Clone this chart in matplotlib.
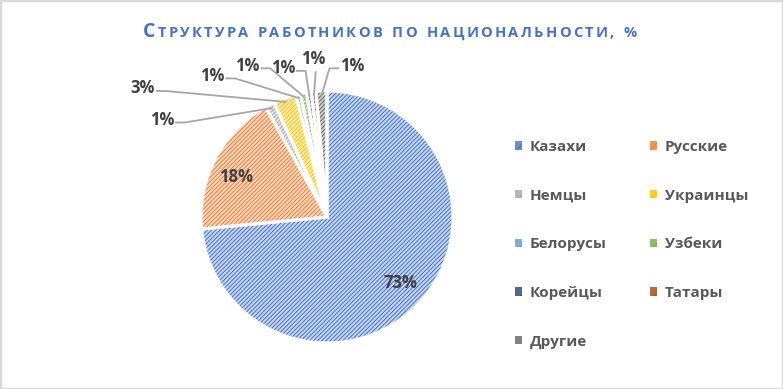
import numpy as np
import matplotlib.pyplot as plt
from matplotlib.colors import to_rgb
from matplotlib.patches import Rectangle, Patch

plt.rcParams['font.family'] = ['Open Sans', 'DejaVu Sans']
plt.rcParams['hatch.linewidth'] = 0.7

groups = ['Казахи', 'Русские', 'Немцы', 'Украинцы', 'Белорусы',
          'Узбеки', 'Корейцы', 'Татары', 'Другие']
shares = [73.4, 18.4, 1.2, 2.9, 0.6, 0.8, 0.6, 0.6, 1.4]
colors = ['#4472C4', '#ED7D31', '#A5A5A5', '#FFC000', '#5B9BD5',
          '#70AD47', '#264478', '#9E480E', '#636363']
title = 'Структура работников по национальности, %'.upper()

# label placement in pie-radius units, and where the leader line leaves the label
label_xy = [(0.58, -0.52), (-0.72, 0.32), (-1.31, 0.77), (-1.46, 1.02), (-0.91, 1.12),
            (-0.63, 1.20), (-0.35, 1.18), (-0.11, 1.25), (0.20, 1.20)]
leader_side = [None, None, 'r', 'r', 'r', 'r', 'r', 'b', 'l']

W, H = 783, 389
fig = plt.figure(figsize=(W / 100, H / 100), dpi=100)
fig.patches.append(Rectangle((0, 0), 1, 1, transform=fig.transFigure, fill=False,
                             edgecolor='#d9d9d9', lw=2.5))

cx, cy, R = 327, 217, 126
ax = fig.add_axes([(cx - R) / W, (H - cy - R) / H, 2 * R / W, 2 * R / H])
ax.axis('off')

light = [tuple(0.3 * np.array(to_rgb(c)) + 0.7) for c in colors]
wedges, _ = ax.pie(shares, colors=light, startangle=90, counterclock=False,
                   radius=1, wedgeprops=dict(linewidth=0))
for w, c in zip(wedges, colors):
    w.set_edgecolor(c)
    w.set_hatch('////////')
ax.pie(shares, startangle=90, counterclock=False, radius=1,
       wedgeprops=dict(fill=False, edgecolor='white', linewidth=2.2))
ax.set_xlim(-1, 1)
ax.set_ylim(-1, 1)

total = sum(shares)
for i, w in enumerate(wedges):
    txt = f'{round(shares[i] / total * 100):d}%'
    lx, ly = label_xy[i]
    ax.text(lx, ly, txt, ha='center', va='center', fontsize=12, fontweight='bold',
            color='#404040', clip_on=False)
    side = leader_side[i]
    if side is None:
        continue
    mid = np.deg2rad((w.theta1 + w.theta2) / 2)
    px, py = 0.97 * np.cos(mid), 0.97 * np.sin(mid)
    if side == 'r':
        pts = [(lx + 0.11, ly - 0.02), (lx + 0.18, ly - 0.02), (px, py)]
    elif side == 'l':
        pts = [(lx - 0.11, ly - 0.02), (lx - 0.18, ly - 0.02), (px, py)]
    else:
        pts = [(lx + 0.02, ly - 0.10), (px, py)]
    xs, ys = zip(*pts)
    ax.plot(xs, ys, color='#a6a6a6', lw=1.3, clip_on=False)

order = [0, 2, 4, 6, 8, 1, 3, 5, 7]
mid_tone = [tuple(0.8 * np.array(to_rgb(c)) + 0.2) for c in colors]
handles = [Patch(facecolor=mid_tone[i], edgecolor=colors[i], linewidth=0, hatch='//')
           for i in order]
leg = fig.legend(handles, [groups[i] for i in order], ncol=2,
                 loc='upper left', bbox_to_anchor=(515 / W, 1 - 140 / H),
                 frameon=False, prop=dict(size=11, weight='bold'),
                 handlelength=0.45, handleheight=0.45, handletextpad=0.5,
                 columnspacing=2.85, labelspacing=2.27, borderpad=0, borderaxespad=0)
for t in leg.get_texts():
    t.set_color('#595959')

# title in small caps with letter spacing
fig.canvas.draw()
rend = fig.canvas.get_renderer()
ty = 1 - 37 / H
pieces = []
x = 0
for i, ch in enumerate(title):
    size = 14 if i == 0 else 10.5
    t = fig.text(0, ty, ch, fontsize=size, fontweight='bold', color='#4472C4',
                 ha='left', va='baseline')
    wpx = 5 if ch == ' ' else t.get_window_extent(rend).width
    pieces.append((t, x))
    x += wpx + 2.3
x -= 2.3
x0 = 390 - x / 2
for t, xo in pieces:
    t.set_x((x0 + xo) / W)

fig.savefig('out.png', dpi=100)
